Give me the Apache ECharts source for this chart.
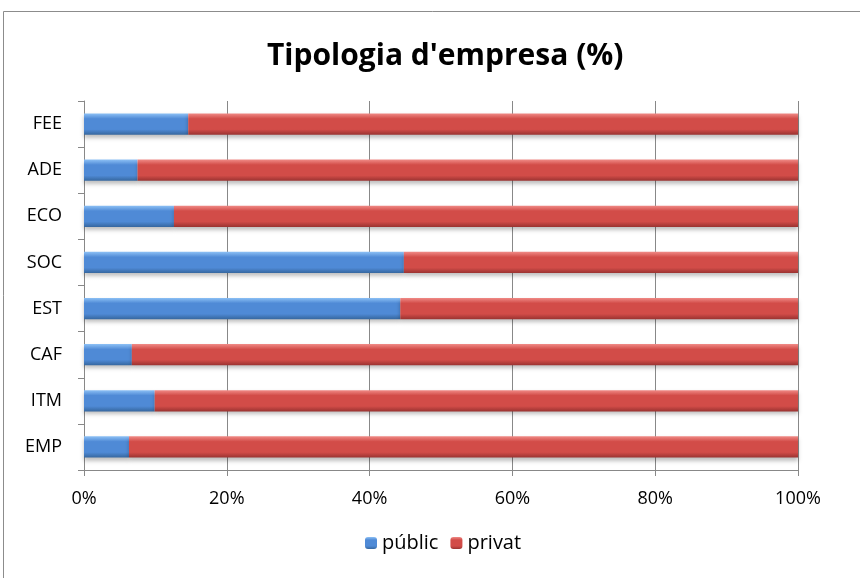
<!DOCTYPE html>
<html><head><meta charset="utf-8">
<script src="https://cdn.jsdelivr.net/npm/echarts@6/dist/echarts.min.js"></script>
<style>html,body{margin:0;padding:0;background:#fff}#c{width:860px;height:578px}</style>
</head><body><div id="c"></div>
<script>
const categories = ['EMP','ITM','CAF','EST','SOC','ECO','ADE','FEE'];
const publicValues = [6.3, 9.9, 6.7, 44.3, 44.8, 12.6, 7.5, 14.6];
const privatValues = [93.7, 90.1, 93.3, 55.7, 55.2, 87.4, 92.5, 85.4];
const xTicks = [0, 20, 40, 60, 80, 100];

const FONT = '"Open Sans", "DejaVu Sans", sans-serif';
function grad(top, mid, bot){
  return new echarts.graphic.LinearGradient(0,0,0,1,[
    {offset:0,color:top},{offset:0.25,color:mid},{offset:0.75,color:mid},{offset:1,color:bot}]);
}
const blue = grad('#8cc0f5','#4f8ad6','#36679f');
const red = grad('#f08a86','#d24c48','#9a3331');

const chart = echarts.init(document.getElementById('c'), null, {renderer:'canvas'});
chart.setOption({
  animation:false,
  backgroundColor:'#fff',
  title:{text:"Tipologia d'empresa (%)", left:262, top:36,
    textStyle:{fontFamily:FONT, fontWeight:'bold', fontSize:30, color:'#000'}},
  graphic:[{type:'rect', shape:{x:3.5,y:11.5,width:900,height:600},
    style:{fill:'none', stroke:'#8c8c8c', lineWidth:1}, silent:true, z:-1}],
  legend:{bottom:20, left:360, itemWidth:12, itemHeight:12, itemGap:12,
    textStyle:{fontFamily:FONT, fontSize:20, color:'#000'},
    data:[{name:'públic', itemStyle:{color:blue}},{name:'privat', itemStyle:{color:red}}]},
  grid:{left:84, right:62, top:101, bottom:108, containLabel:false},
  xAxis:{type:'value', min:0, max:100, interval:20,
    axisLine:{show:true, lineStyle:{color:'#888'}},
    axisTick:{show:true, length:6, lineStyle:{color:'#888'}},
    splitLine:{show:true, lineStyle:{color:'#888', width:1}},
    axisLabel:{formatter:v=>xTicks.includes(v)?v+'%':'', fontFamily:FONT, fontSize:18, color:'#000', margin:20}},
  yAxis:{type:'category', data:categories,
    axisLine:{show:true, lineStyle:{color:'#888'}},
    axisTick:{show:true, length:6, lineStyle:{color:'#888'}},
    axisLabel:{fontFamily:FONT, fontSize:18, color:'#000', margin:22}},
  series:[
    {name:'públic', type:'bar', stack:'t', data:publicValues, barWidth:'46%',
      itemStyle:{color:blue, shadowColor:'rgba(0,0,0,0.25)', shadowBlur:4, shadowOffsetY:3}},
    {name:'privat', type:'bar', stack:'t', data:privatValues, barWidth:'46%',
      itemStyle:{color:red, shadowColor:'rgba(0,0,0,0.25)', shadowBlur:4, shadowOffsetY:3}}
  ]
});
</script></body></html>
